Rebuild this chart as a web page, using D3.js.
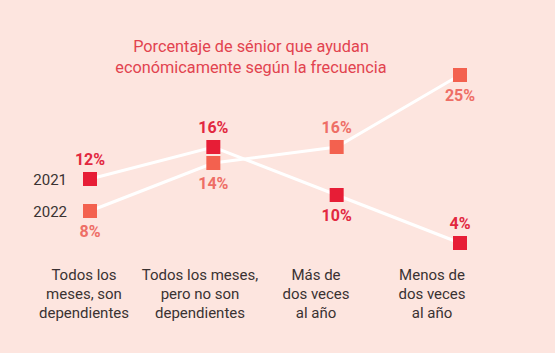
<!DOCTYPE html>
<html><head><meta charset="utf-8">
<script src="https://cdn.jsdelivr.net/npm/d3@7"></script>
<style>
html,body{margin:0;padding:0;background:#fde5df;}
svg{display:block;}
</style></head>
<body>
<script>
const categories = [
  ["Todos los","meses, son","dependientes"],
  ["Todos los meses,","pero no son","dependientes"],
  ["Más de","dos veces","al año"],
  ["Menos de","dos veces","al año"]
];
const catKeys = ["c1","c2","c3","c4"];
const series2021 = [12, 16, 10, 4];
const series2022 = [8, 14, 16, 25];
const seriesNames = ["2021", "2022"];
// label placement: true = above marker
const above2021 = [true, true, false, true];
const above2022 = [false, false, true, false];
const titleLines = ["Porcentaje de sénior que ayudan", "económicamente según la frecuencia"];

const W = 555, H = 353;
const svg = d3.select("body").append("svg").attr("width", W).attr("height", H);
svg.append("rect").attr("width", W).attr("height", H).attr("fill", "#fde5df");

const x = d3.scalePoint().domain(catKeys).range([90, 460]);
const xLab = d3.scalePoint().domain(catKeys).range([84, 432]);
const y = d3.scaleLinear().domain([0, 25]).range([275, 75]);

const FONT = "Roboto, 'Noto Sans', sans-serif";
const c2021 = "#e71d36", c2022 = "#f3614f";
const t2021 = "#e2283f", t2022 = "#ee6e66";

// title
svg.append("g").selectAll("text").data(titleLines).join("text")
  .attr("x", 251).attr("y", (d, i) => 52 + i * 21)
  .attr("text-anchor", "middle").attr("font-family", FONT)
  .attr("font-size", 16.3).attr("fill", "#e2434f").text(d => d);

const line = d3.line().x((d, i) => x(catKeys[i])).y(d => y(d));
[series2022, series2021].forEach(s => {
  svg.append("path").attr("d", line(s)).attr("fill", "none")
    .attr("stroke", "#ffffff").attr("stroke-width", 3);
});

function drawSeries(s, fill, tcol, above) {
  const g = svg.append("g");
  g.selectAll("rect").data(s).join("rect")
    .attr("x", (d, i) => x(catKeys[i]) - 7).attr("y", d => y(d) - 7)
    .attr("width", 14).attr("height", 14).attr("fill", fill);
  g.selectAll("text").data(s).join("text")
    .attr("x", (d, i) => x(catKeys[i]))
    .attr("y", (d, i) => above[i] ? y(d) - 14 : y(d) + 26)
    .attr("text-anchor", "middle").attr("font-family", FONT)
    .attr("font-weight", "bold").attr("font-size", 16).attr("fill", tcol)
    .text(d => d + "%");
}
drawSeries(series2022, c2022, t2022, above2022);
drawSeries(series2021, c2021, t2021, above2021);

// series names
svg.append("g").selectAll("text").data(seriesNames).join("text")
  .attr("x", 67).attr("y", (d, i) => y([series2021, series2022][i][0]) + 6)
  .attr("text-anchor", "end").attr("font-family", FONT)
  .attr("font-size", 15).attr("fill", "#3a3232").text(d => d);

// category labels
const cg = svg.append("g").selectAll("text").data(categories).join("text")
  .attr("text-anchor", "middle").attr("font-family", FONT)
  .attr("font-size", 15).attr("fill", "#3a3232");
cg.each(function(d, i) {
  d3.select(this).selectAll("tspan").data(d).join("tspan")
    .attr("x", xLab(catKeys[i])).attr("y", (t, j) => 280 + j * 19).text(t => t);
});
</script>
</body></html>
